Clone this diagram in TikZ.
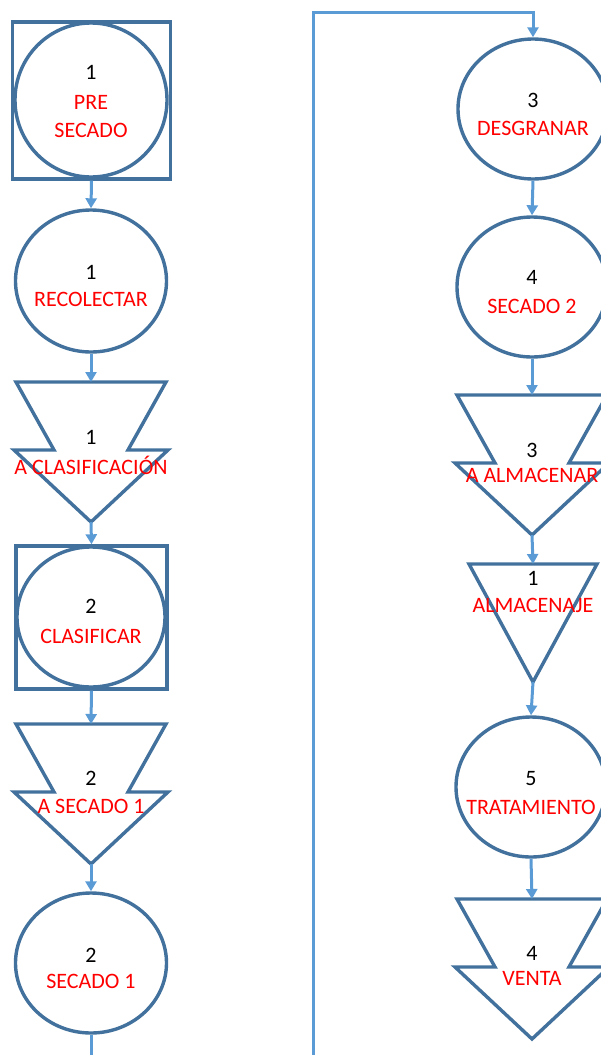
\documentclass[tikz,border=0pt]{standalone}
\usepackage{fontspec}
\setmainfont{Carlito}
\usetikzlibrary{shapes.geometric,arrows.meta,calc}
\definecolor{shapeblue}{HTML}{41719C}
\definecolor{linkblue}{HTML}{5B9BD5}
\definecolor{labelred}{HTML}{FF0000}
\tikzset{
  x=1pt, y=-1pt,
  outline/.style={draw=shapeblue, line width=3.4pt, fill=white},
  opcircle/.style={outline, ellipse, inner sep=0pt, minimum width=150, minimum height=140},
  inspbox/.style={outline, rectangle, inner sep=0pt},
  conn/.style={draw=linkblue, line width=3pt, -{Triangle[width=11pt,length=10pt]}},
  plainlink/.style={draw=linkblue, line width=3pt},
  num/.style={font=\fontsize{22}{26}\selectfont, text=black, inner sep=0pt},
  lbl/.style={font=\fontsize{22}{26}\selectfont, text=labelred, inner sep=0pt},
  transport/.pic={
    \draw[outline] (-75,-68) -- (75,-68) -- (37,0) -- (77,0) -- (0,72)
                   -- (-77,0) -- (-37,0) -- cycle;
    \coordinate (-top) at (0,-68);
    \coordinate (-tip) at (0,72);
  }
}
\begin{document}
\begin{tikzpicture}
\useasboundingbox (0,0) rectangle (601,1055);
\clip (0,0) rectangle (601,1055);

% ---- left column ----
\node[inspbox, minimum width=158, minimum height=157] (sq1) at (91.5,100.5) {};
\node[opcircle, minimum width=152, minimum height=154] (c1) at (91,100) {};
\node[num] at (91,72) {1};
\node[lbl] at (91,102) {PRE};
\node[lbl] at (91,130) {SECADO};

\node[opcircle, minimum width=151, minimum height=142] (c2) at (91,281) {};
\node[num] at (91,272) {1};
\node[lbl] at (91,299) {RECOLECTAR};

\pic (t3) at (91,450) {transport};
\node[num] at (91,437) {1};
\node[lbl] at (91,465) {A CLASIFICACIÓN};

\node[inspbox, minimum width=151, minimum height=143] (sq4) at (91.5,617.5) {};
\node[opcircle, minimum width=148, minimum height=140] (c4) at (91,617) {};
\node[num] at (91,606) {2};
\node[lbl] at (91,636) {CLASIFICAR};

\pic (t5) at (91,792) {transport};
\node[num] at (91,778) {2};
\node[lbl] at (91,806) {A SECADO 1};

\node[opcircle, minimum width=151, minimum height=140] (c6) at (91,963) {};
\node[num] at (91,955) {2};
\node[lbl] at (91,981) {SECADO 1};

% ---- right column ----
\node[opcircle] (c7) at (533,109) {};
\node[num] at (533,100) {3};
\node[lbl] at (533,128) {DESGRANAR};

\node[opcircle] (c8) at (532,287) {};
\node[num] at (532,277) {4};
\node[lbl] at (532,306) {SECADO 2};

\pic (t9) at (532,463) {transport};
\node[num] at (532,450) {3};
\node[lbl] at (532,475) {A ALMACENAR};

\draw[outline] (469,564) -- (597,564) -- (533,682) -- cycle;
\coordinate (t10top) at (533,564);
\coordinate (t10tip) at (533,682);
\node[num] at (533,578) {1};
\node[lbl] at (533,605) {ALMACENAJE};

\node[opcircle] (c11) at (531,787) {};
\node[num] at (531,779) {5};
\node[lbl] at (531,807) {TRATAMIENTO};

\pic (t12) at (532,967) {transport};
\node[num] at (532,953) {4};
\node[lbl] at (532,978) {VENTA};

% ---- connectors ----
\coordinate (outL) at (91,1062);
\coordinate (outR) at (313,1062);
\coordinate (turn) at (533,12);

\draw[conn] (sq1.south) -- (c2.north);
\draw[conn] (c2.south) -- (t3-top);
\draw[conn] (t3-tip) -- (sq4.north);
\draw[conn] (sq4.south) -- (t5-top);
\draw[conn] (t5-tip) -- (c6.north);
\draw[plainlink] (c6.south) -- (outL);

\draw[conn] (outR) |- (turn) -- (c7.north);
\draw[conn] (c7.south) -- (c8.north);
\draw[conn] (c8.south) -- (t9-top);
\draw[conn] (t9-tip) -- (t10top);
\draw[conn] (t10tip) -- (c11.north);
\draw[conn] (c11.south) -- (t12-top);
\end{tikzpicture}
\end{document}
